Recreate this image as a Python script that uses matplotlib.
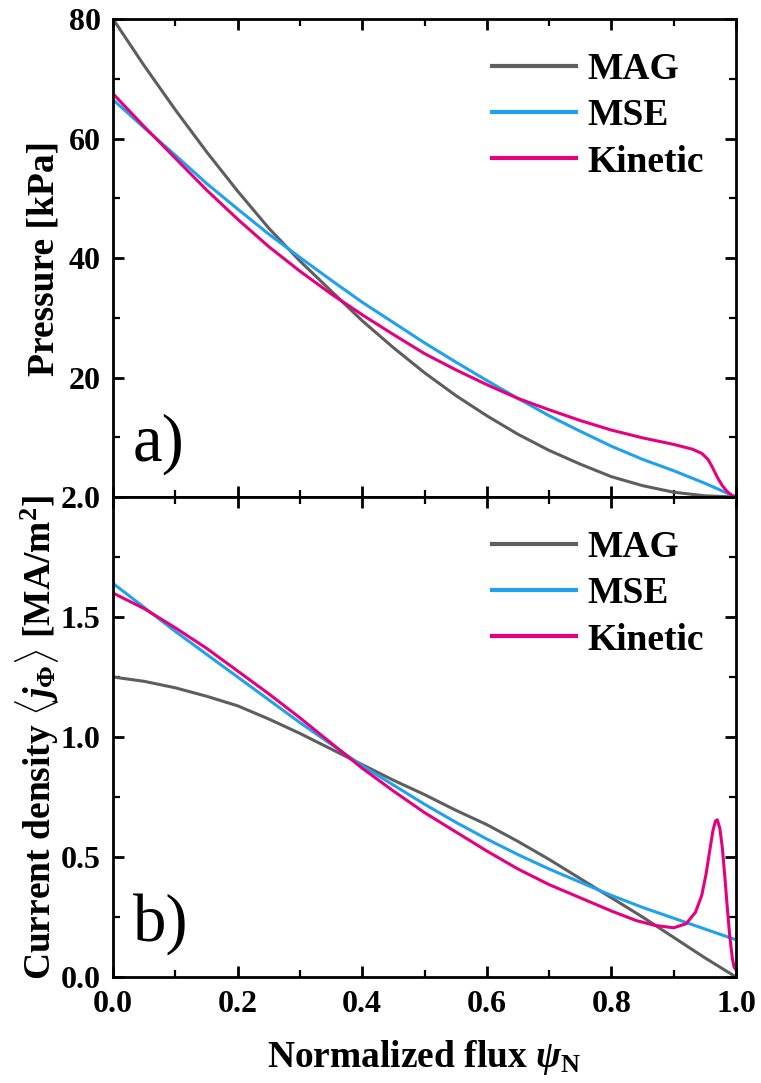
import matplotlib
matplotlib.use("Agg")
import matplotlib.pyplot as plt
from matplotlib.ticker import MultipleLocator, FormatStrFormatter

# ---- data -------------------------------------------------------------
psi = [0.00, 0.05, 0.10, 0.15, 0.20, 0.25, 0.30, 0.35, 0.40, 0.45, 0.50,
       0.55, 0.60, 0.65, 0.70, 0.75, 0.80, 0.85, 0.90, 0.95, 1.00]

# pressure profiles [kPa]
p_mag = [80.0, 72.2, 64.8, 57.8, 51.2, 45.0, 39.5, 34.5, 29.5, 25.0, 20.8,
         17.0, 13.6, 10.5, 7.8, 5.5, 3.4, 1.9, 0.8, 0.2, 0.0]
p_mse = [66.5, 61.8, 57.2, 52.5, 48.2, 44.0, 40.1, 36.3, 32.6, 29.2, 25.8,
         22.6, 19.5, 16.5, 13.6, 11.0, 8.5, 6.3, 4.4, 2.3, 0.0]
psi_p_kin = [0.00, 0.05, 0.10, 0.15, 0.20, 0.25, 0.30, 0.35, 0.40, 0.45,
             0.50, 0.55, 0.60, 0.65, 0.70, 0.75, 0.80, 0.85, 0.90, 0.93,
             0.945, 0.955, 0.962, 0.970, 0.978, 0.986, 0.993, 1.00]
p_kin = [67.5, 62.0, 56.7, 51.4, 46.5, 41.9, 37.8, 34.0, 30.5, 27.2,
         24.0, 21.3, 18.8, 16.5, 14.6, 12.8, 11.2, 9.9, 8.8, 8.0,
         7.3, 6.3, 5.0, 3.3, 1.9, 0.9, 0.3, 0.0]

# flux-surface averaged toroidal current density [MA/m^2]
j_mag = [1.25, 1.232, 1.205, 1.17, 1.13, 1.075, 1.015, 0.95, 0.885, 0.82, 0.76,
         0.695, 0.635, 0.565, 0.49, 0.41, 0.33, 0.25, 0.165, 0.08, 0.0]
j_mse = [1.64, 1.54, 1.44, 1.345, 1.25, 1.155, 1.06, 0.97, 0.88, 0.80, 0.72,
         0.645, 0.575, 0.51, 0.45, 0.395, 0.34, 0.29, 0.245, 0.20, 0.155]
psi_j_kin = [0.00, 0.05, 0.10, 0.15, 0.20, 0.25, 0.30, 0.35, 0.40, 0.45,
             0.50, 0.55, 0.60, 0.65, 0.70, 0.75, 0.80, 0.84, 0.87, 0.90,
             0.92, 0.935, 0.945, 0.952, 0.958, 0.963, 0.967, 0.970, 0.974,
             0.978, 0.982, 0.986, 0.990, 0.994, 0.997, 1.00]
j_kin = [1.60, 1.535, 1.455, 1.37, 1.275, 1.18, 1.08, 0.975, 0.87, 0.775,
         0.685, 0.605, 0.525, 0.45, 0.385, 0.33, 0.275, 0.235, 0.215, 0.205,
         0.222, 0.27, 0.34, 0.43, 0.53, 0.61, 0.65, 0.655, 0.62,
         0.54, 0.42, 0.29, 0.17, 0.08, 0.04, 0.03]

labels = ["MAG", "MSE", "Kinetic"]
colors = ["#5e5e5e", "#1fa0f0", "#e6007e"]

# ---- style ------------------------------------------------------------
plt.rcParams["font.family"] = ["Liberation Serif", "DejaVu Serif"]
plt.rcParams["font.weight"] = "bold"
plt.rcParams["mathtext.fontset"] = "custom"
plt.rcParams["mathtext.rm"] = "Liberation Serif:bold"
plt.rcParams["mathtext.bf"] = "Liberation Serif:bold"
plt.rcParams["mathtext.it"] = "Liberation Serif:italic:bold"

fig = plt.figure(figsize=(7.61, 10.83), dpi=100)
left, width = 113 / 761, 623 / 761
ax_p = fig.add_axes([left, 1 - 497 / 1083, width, 478 / 1083])
ax_j = fig.add_axes([left, 1 - 977 / 1083, width, 480 / 1083], sharex=ax_p)

lw = 2.2
ax_p.plot(psi, p_mag, color=colors[0], lw=lw, label=labels[0])
ax_p.plot(psi, p_mse, color=colors[1], lw=lw, label=labels[1])
ax_p.plot(psi_p_kin, p_kin, color=colors[2], lw=lw, label=labels[2])

ax_j.plot(psi, j_mag, color=colors[0], lw=lw, label=labels[0])
ax_j.plot(psi, j_mse, color=colors[1], lw=lw, label=labels[1])
ax_j.plot(psi_j_kin, j_kin, color=colors[2], lw=lw, label=labels[2])

ax_p.set_xlim(0, 1)
ax_p.set_ylim(0, 80)
ax_j.set_ylim(0, 2.0)

for ax in (ax_p, ax_j):
    for sp in ax.spines.values():
        sp.set_linewidth(2.0)
    ax.tick_params(which="both", direction="in", top=True, right=True)
    ax.tick_params(which="major", length=8, width=2.0, labelsize=23, pad=9)
    ax.tick_params(which="minor", length=5, width=1.6)
    ax.xaxis.set_major_locator(MultipleLocator(0.2))
    ax.xaxis.set_minor_locator(MultipleLocator(0.1))
    leg = ax.legend(loc="upper right", bbox_to_anchor=(0.985, 0.978),
                    frameon=False, fontsize=27, handlelength=2.25,
                    handletextpad=0.3, labelspacing=0.3, borderaxespad=0.2)
    for line in leg.get_lines():
        line.set_linewidth(3.0)

ax_p.set_yticks([0, 20, 40, 60, 80])
ax_p.set_yticklabels(["", "20", "40", "60", "80"])
ax_p.yaxis.set_minor_locator(MultipleLocator(10))
ax_p.tick_params(axis="x", labelbottom=False)

ax_j.yaxis.set_major_locator(MultipleLocator(0.5))
ax_j.yaxis.set_minor_locator(MultipleLocator(0.25))
ax_j.yaxis.set_major_formatter(FormatStrFormatter("%.1f"))
ax_j.xaxis.set_major_formatter(FormatStrFormatter("%.1f"))

ax_p.set_ylabel("Pressure [kPa]", fontsize=27, fontweight="bold")
ax_j.set_ylabel(r"Current density $\langle j_{\Phi}\rangle$ [MA/m$^{2}$]",
                fontsize=27, fontweight="bold")
ax_j.set_xlabel(r"Normalized flux $\psi_{\mathbf{N}}$", fontsize=27,
                fontweight="bold", labelpad=14)
ax_p.yaxis.set_label_coords(-0.083, 0.5)
ax_j.yaxis.set_label_coords(-0.083, 0.5)

ax_p.text(0.032, 0.077, "a)", transform=ax_p.transAxes, fontsize=48,
          fontweight="normal", va="baseline", ha="left")
ax_j.text(0.032, 0.077, "b)", transform=ax_j.transAxes, fontsize=48,
          fontweight="normal", va="baseline", ha="left")

fig.savefig("out.png", dpi=100)
